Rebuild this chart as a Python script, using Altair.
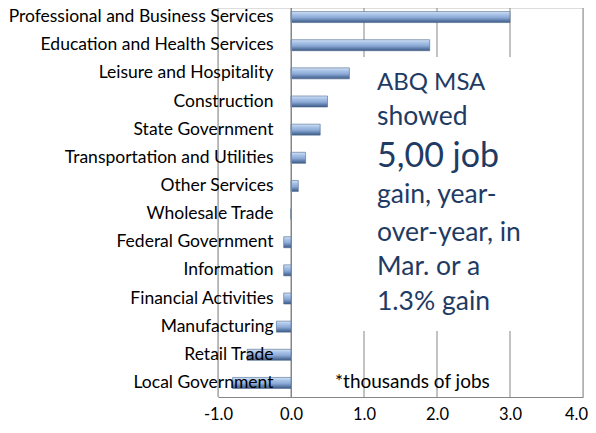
import altair as alt
import pandas as pd

categories = ["Professional and Business Services", "Education and Health Services",
              "Leisure and Hospitality", "Construction", "State Government",
              "Transportation and Utilities", "Other Services", "Wholesale Trade",
              "Federal Government", "Information", "Financial Activities",
              "Manufacturing", "Retail Trade", "Local Government"]
values = [3.0, 1.9, 0.8, 0.5, 0.4, 0.2, 0.1, 0.0, -0.1, -0.1, -0.1, -0.2, -0.6, -0.8]
x_ticks = [-1, 0, 1, 2, 3, 4]

note_lines = ["ABQ MSA", "showed", "5,00 job", "gain, year-", "over-year, in", "Mar. or a", "1.3% gain"]
note_sizes = [24, 26.5, 34, 26.5, 26.5, 26.5, 26.5]
note_y = [75, 109, 149, 187, 225, 259, 294]
footnote = "*thousands of jobs"

FONT = "Lato"
W, H = 365, 389
BOX_TOP, BOX_BOTTOM = 49, 323  # text box (hides gridlines 1..3 behind it)

df = pd.DataFrame({"cat": categories, "val": values})
notes = pd.DataFrame({"t": note_lines, "s": note_sizes, "yy": note_y})

# gridline segments as two-point lines (gap where the text box sits)
pts_g, pts_y, pts_seg, pts_ord = [], [], [], []
seg = 0
for g in x_ticks:
    spans = [(0, BOX_TOP), (BOX_BOTTOM, H)] if 1 <= g <= 3 else [(0, H)]
    for a, b in spans:
        pts_g += [g, g]
        pts_y += [a, b]
        pts_seg += [seg, seg]
        pts_ord += [0, 1]
        seg += 1
grid_df = pd.DataFrame({"g": pts_g, "py": pts_y, "seg": pts_seg, "o": pts_ord})

grad = alt.Gradient(
    gradient="linear", x1=0, x2=0, y1=0, y2=1,
    stops=[
        alt.GradientStop(color="#D5E3F5", offset=0),
        alt.GradientStop(color="#A9C4E8", offset=0.25),
        alt.GradientStop(color="#8DAAD6", offset=0.55),
        alt.GradientStop(color="#5E7DAA", offset=0.8),
        alt.GradientStop(color="#3E5A82", offset=1),
    ],
)

y_enc = alt.Y("cat:N", sort=categories, title=None,
              scale=alt.Scale(range=[-5, H], paddingInner=0, paddingOuter=0),
              axis=alt.Axis(offset=-73, ticks=False, domain=True, domainColor="#868686",
                            labelFont=FONT, labelFontSize=17.5, labelColor="#000000",
                            labelPadding=18, labelLimit=400, zindex=1, grid=False))

x_scale = alt.Scale(domain=[-1, 4], nice=False, zero=False)
x_axis = alt.Axis(values=x_ticks, ticks=False, domain=True,
                  labelExpr="replace(format(datum.value, '.1f'), '\u2212', '-')",
                  domainColor="#868686", grid=False,
                  labelFont=FONT, labelFontSize=16.5, labelColor="#000000",
                  labelPadding=9, labelFlush=False,
                  labelOffset=alt.condition("datum.value == 4", alt.value(-7), alt.value(0)))

grid = alt.Chart(grid_df).mark_line(color="#868686", strokeWidth=1).encode(
    x=alt.X("g:Q", scale=x_scale, axis=x_axis, title=None),
    y=alt.Y("py:Q", scale=None, axis=None),
    detail="seg:N",
    order="o:Q",
)

bars = alt.Chart(df).mark_bar(size=11, color=grad, stroke="#4A6891", strokeWidth=0.6).encode(
    x=alt.X("val:Q", title=None, scale=x_scale, axis=x_axis),
    y=y_enc, x2=alt.datum(0)
)

note_text = alt.Chart(notes).mark_text(align="left", baseline="middle", font=FONT,
                                       color="#1F3B63").encode(
    x=alt.value(159), y=alt.Y("yy:Q", scale=None, axis=None), text="t:N",
    size=alt.Size("s:Q", scale=None, legend=None)
)

foot = alt.Chart(pd.DataFrame({"t": [footnote]})).mark_text(
    align="left", baseline="middle", font=FONT, fontSize=19, color="#000000"
).encode(x=alt.value(117), y=alt.value(374), text="t:N")

chart = alt.layer(grid, bars, note_text, foot).properties(
    width=W, height=H,
    autosize=alt.AutoSizeParams(type="none"),
    padding={"left": 210, "top": 0, "right": 5, "bottom": 25},
).configure_axis(grid=False).configure_view(stroke=None).configure(background="white")

chart.save("out.html", embed_options={"renderer": "svg", "actions": False})
